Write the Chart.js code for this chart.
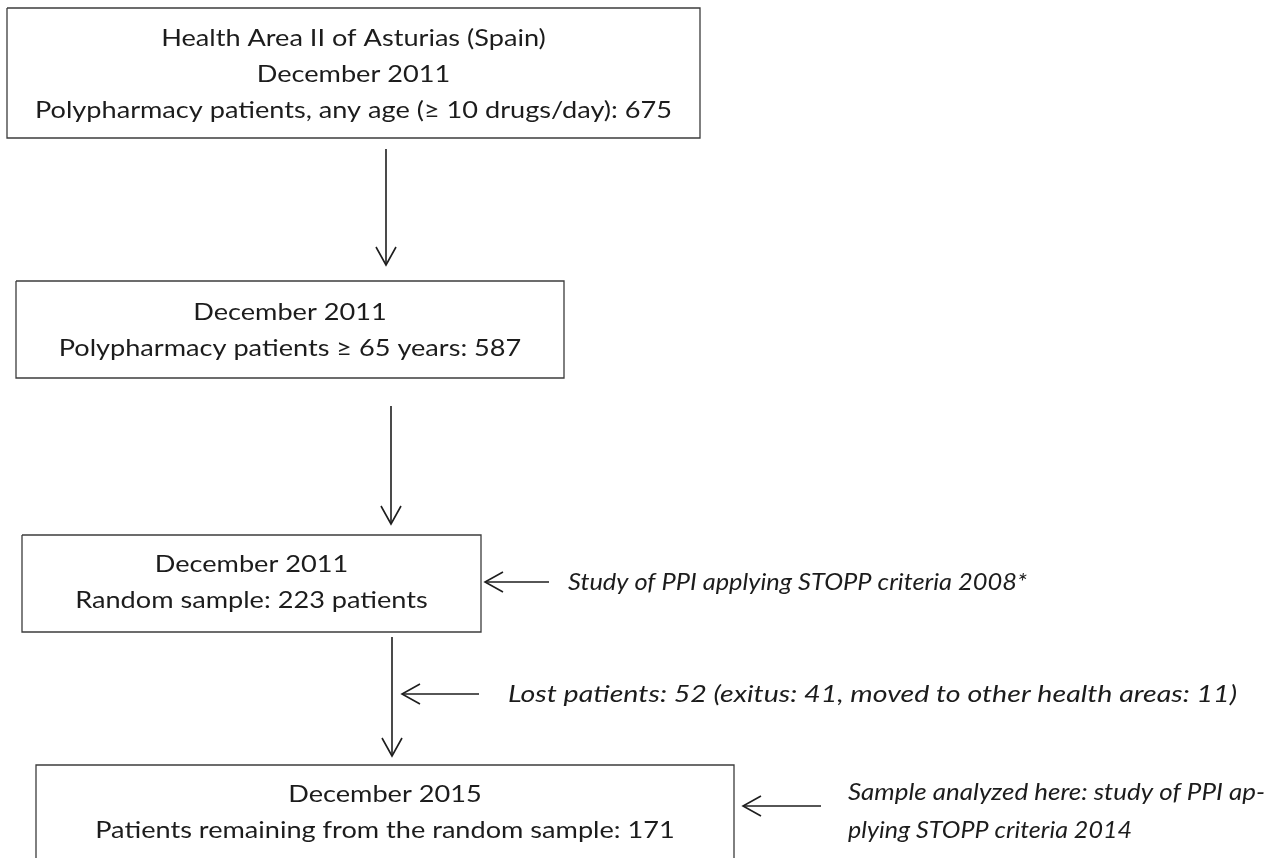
<!DOCTYPE html>
<html>
<head>
<meta charset="utf-8">
<title>Study flowchart</title>
<script src="https://cdn.jsdelivr.net/npm/chart.js@4.4.1/dist/chart.umd.min.js"></script>
<style>
  html, body { margin: 0; padding: 0; background: #fff; }
  #wrap { width: 1283px; height: 858px; }
</style>
</head>
<body>
<div id="wrap"><canvas id="flowChart" width="1283" height="858"></canvas></div>
<script>
// --- data ---
const headerText = 'Health Area II of Asturias (Spain)';
const stageDates = ['December 2011', 'December 2011', 'December 2011', 'December 2015'];
const stageLabels = [
    'Polypharmacy patients, any age (≥ 10 drugs/day)',
    'Polypharmacy patients ≥ 65 years',
    'Random sample',
    'Patients remaining from the random sample'
];
const stageCounts = [675, 587, 223, 171];
const stageUnits = ['', '', ' patients', ''];
const lostTotal = 52;
const lostReasons = ['exitus', 'moved to other health areas'];
const lostCounts = [41, 11];
const sideNotes = [
    ['Study of PPI applying STOPP criteria 2008*'],
    ['Lost patients: ' + lostTotal + ' (' + lostReasons.map((r, i) => r + ': ' + lostCounts[i]).join(', ') + ')'],
    ['Sample analyzed here: study of PPI ap-', 'plying STOPP criteria 2014']
];

// --- layout (chart units = pixels of the 1283x858 frame) ---
const boxes = [
    { x0: 7,  x1: 700, y0: 8,   y1: 138, lines: [46, 82, 118] },
    { x0: 16, x1: 564, y0: 281, y1: 378, lines: [320, 356] },
    { x0: 22, x1: 481, y0: 535, y1: 632, lines: [572, 608] },
    { x0: 36, x1: 734, y0: 765, y1: 900, lines: [802, 838], open: true }
];
const downArrows = [
    { x: 386, y0: 149, y1: 265 },
    { x: 391, y0: 406, y1: 524 },
    { x: 392, y0: 637, y1: 756 }
];
const leftArrows = [
    { y: 582, x0: 549, x1: 485 },
    { y: 694, x0: 479, x1: 402 },
    { y: 806, x0: 821, x1: 743 }
];
// side notes: left edge, baselines and the width each line spans in the figure
const noteAnchors = [
    { x: 568, lines: [590], widths: [459] },
    { x: 508, lines: [702], widths: [729] },
    { x: 848, lines: [800, 838], widths: [417, 284] }
];
const HEAD_LEN = 18, HEAD_HALF = 10;

const textColor = '#1c1c1c';
const boxColor = '#3c3c3c';
const arrowColor = '#1e1e1e';
const uprightStyle = { font: '24px Lato', ref: 'Polypharmacy patients, any age (≥ 10 drugs/day): 675', width: 637 };
const italicFont = 'italic 24px Lato';

function stageLines(i) {
    const lines = [];
    if (i === 0) lines.push(headerText);
    lines.push(stageDates[i]);
    lines.push(stageLabels[i] + ': ' + stageCounts[i] + stageUnits[i]);
    return lines;
}

// --- datasets: boxes and arrows as line series ---
const datasets = [];
function addPath(points, color, width) {
    datasets.push({
        type: 'line',
        data: points,
        showLine: true,
        borderColor: color,
        borderWidth: width,
        pointRadius: 0,
        tension: 0,
        fill: false,
        borderJoinStyle: 'miter',
        borderCapStyle: 'butt'
    });
}
boxes.forEach(b => {
    const pts = b.open
        ? [{ x: b.x0, y: b.y1 }, { x: b.x0, y: b.y0 }, { x: b.x1, y: b.y0 }, { x: b.x1, y: b.y1 }]
        : [{ x: b.x0, y: b.y0 }, { x: b.x1, y: b.y0 }, { x: b.x1, y: b.y1 }, { x: b.x0, y: b.y1 }, { x: b.x0, y: b.y0 }];
    addPath(pts, boxColor, 1.3);
});
downArrows.forEach(a => {
    addPath([{ x: a.x, y: a.y0 }, { x: a.x, y: a.y1 }], arrowColor, 1.6);
    addPath([{ x: a.x - HEAD_HALF, y: a.y1 - HEAD_LEN }, { x: a.x, y: a.y1 }, { x: a.x + HEAD_HALF, y: a.y1 - HEAD_LEN }], arrowColor, 1.6);
});
leftArrows.forEach(a => {
    addPath([{ x: a.x0, y: a.y }, { x: a.x1, y: a.y }], arrowColor, 1.6);
    addPath([{ x: a.x1 + HEAD_LEN, y: a.y - HEAD_HALF }, { x: a.x1, y: a.y }, { x: a.x1 + HEAD_LEN, y: a.y + HEAD_HALF }], arrowColor, 1.6);
});

// --- text drawn through the scales ---
function drawText(ctx, text, px, py, sx, align) {
    ctx.save();
    ctx.translate(px, py);
    ctx.scale(sx, 1);
    ctx.textAlign = align;
    ctx.fillText(text, 0, 0);
    ctx.restore();
}

const flowText = {
    id: 'flowText',
    afterDatasetsDraw(chart) {
        const { ctx, scales: { x, y } } = chart;
        ctx.save();
        ctx.fillStyle = textColor;
        ctx.textBaseline = 'alphabetic';

        ctx.font = uprightStyle.font;
        const sxUp = uprightStyle.width / ctx.measureText(uprightStyle.ref).width;
        boxes.forEach((b, i) => {
            const cx = x.getPixelForValue((b.x0 + b.x1) / 2);
            stageLines(i).forEach((line, k) => {
                drawText(ctx, line, cx, y.getPixelForValue(b.lines[k]), sxUp, 'center');
            });
        });

        ctx.font = italicFont;
        sideNotes.forEach((note, i) => {
            const a = noteAnchors[i];
            note.forEach((line, k) => {
                const px0 = x.getPixelForValue(a.x);
                const span = x.getPixelForValue(a.x + a.widths[k]) - px0;
                const sx = span / ctx.measureText(line).width;
                drawText(ctx, line, px0, y.getPixelForValue(a.lines[k]), sx, 'left');
            });
        });
        ctx.restore();
    }
};

function drawFlow() {
    const ctx = document.getElementById('flowChart').getContext('2d');
    return new Chart(ctx, {
        type: 'scatter',
        data: { datasets },
        options: {
            responsive: false,
            animation: false,
            events: [],
            layout: { padding: 0 },
            scales: {
                x: { type: 'linear', min: 0, max: 1283, display: false },
                y: { type: 'linear', min: 0, max: 858, reverse: true, display: false }
            },
            plugins: {
                legend: { display: false },
                tooltip: { enabled: false }
            }
        },
        plugins: [flowText]
    });
}

document.fonts.load('24px Lato').then(() => document.fonts.load(italicFont)).then(drawFlow, drawFlow);
</script>
</body>
</html>
